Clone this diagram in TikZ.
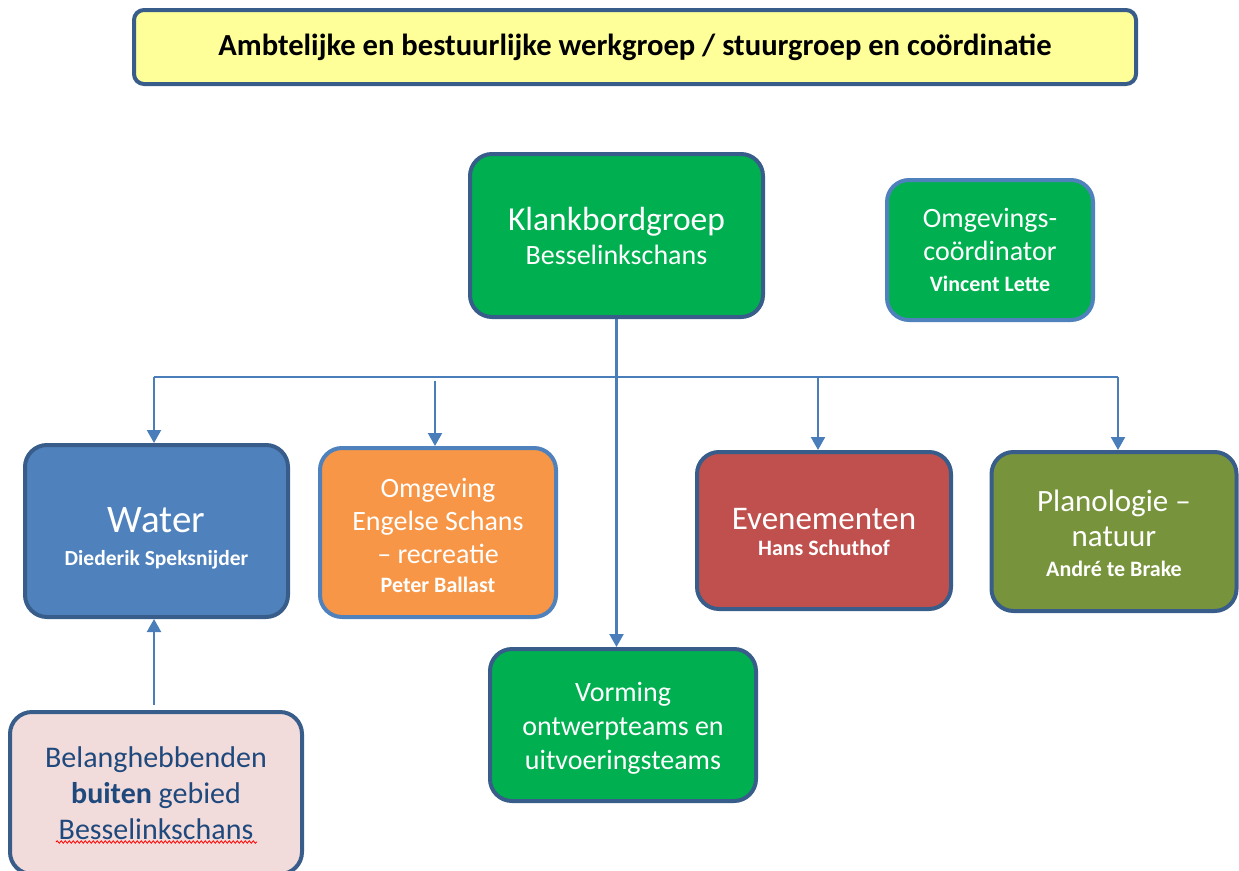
\documentclass[tikz,border=0pt]{standalone}
\usepackage{fontspec}
\setmainfont{Carlito}
\usetikzlibrary{arrows.meta,decorations.pathmorphing}
\definecolor{darkb}{HTML}{385D8A}
\definecolor{lightb}{HTML}{4F81BD}
\definecolor{connc}{HTML}{4A7EBB}
\definecolor{yel}{HTML}{FFFF99}
\definecolor{grn}{HTML}{00B050}
\definecolor{wblue}{HTML}{4F81BD}
\definecolor{orng}{HTML}{F79646}
\definecolor{redd}{HTML}{C0504D}
\definecolor{olive}{HTML}{77933C}
\definecolor{pink}{HTML}{F2DCDB}
\definecolor{navy}{HTML}{1F497D}
\newcommand{\fsz}[2]{\fontsize{#1}{#2}\selectfont}
\newcommand{\pushdown}[2]{\raisebox{0pt}[\dimexpr\height+#1\relax]{#2}}
\begin{document}
\begin{tikzpicture}[x=1pt,y=-1pt,
  box/.style={draw=darkb, line width=4pt, rounded corners=22pt, text=white, align=center, inner sep=0pt},
  conn/.style={draw=connc, line width=2.2pt},
  arr/.style={conn, -{Triangle[width=14pt,length=13pt]}}]
\useasboundingbox (0,0) rectangle (1239,870);

\node[box, fill=yel, rounded corners=10pt, minimum width=1002pt, minimum height=74pt, text=black,
  font=\fsz{30.6}{36}\bfseries] (title) at (635,47)
  {Ambtelijke en bestuurlijke werkgroep / stuurgroep en coördinatie};

\node[box, fill=grn, minimum width=293pt, minimum height=163pt, font=\fsz{33.5}{34}] (klank) at (616.5,235.5)
  {Klankbordgroep\\\fsz{28}{34}Besselinkschans};

\node[box, fill=grn, draw=lightb, minimum width=206pt, minimum height=140pt, font=\fsz{28}{33}] (omgc) at (990,250)
  {Omgevings-\\coördinator\\[-2pt]\fsz{22}{33}\bfseries Vincent Lette};

\node[box, fill=wblue, minimum width=263pt, minimum height=172pt, font=\fsz{39}{33}] (water) at (156.5,531)
  {\pushdown{14pt}{Water}\\\fsz{21.5}{33}\bfseries Diederik Speksnijder};

\node[box, fill=orng, draw=lightb, minimum width=236pt, minimum height=169pt, font=\fsz{28}{33}] (omg) at (438,532.5)
  {\pushdown{6pt}{Omgeving}\\Engelse Schans\\-- recreatie\\[-4pt]\fsz{22}{33}\bfseries Peter Ballast};

\node[box, fill=redd, minimum width=254pt, minimum height=157pt, font=\fsz{33}{26}] (even) at (824,530.5)
  {\pushdown{3pt}{Evenementen}\\\fsz{22}{26}\bfseries Hans Schuthof};

\node[box, fill=olive, minimum width=245pt, minimum height=159pt, font=\fsz{31}{35}] (plan) at (1114,531.5)
  {\pushdown{3pt}{Planologie --}\\natuur\\[-5pt]\fsz{22}{35}\bfseries André te Brake};

\node[box, fill=grn, minimum width=266pt, minimum height=152pt, font=\fsz{28}{34}] (vorm) at (623,725)
  {\pushdown{6pt}{Vorming}\\ontwerpteams en\\uitvoeringsteams};

\node[box, fill=pink, text=navy, minimum width=292pt, minimum height=162pt, font=\fsz{30}{36}] (belang) at (156,793)
  {Belanghebbenden\\\textbf{buiten} gebied\\Besselinkschans};

% connectors
\coordinate (busL) at (154,377);
\coordinate (busR) at (1118,377);
\coordinate (tapO) at (435,381);
\coordinate (tapE) at (818,377);
\coordinate (belTop) at (154,705);
\draw[conn] (busL) -- (busR);
\draw[arr] (busL) -- (busL |- water.north);
\draw[arr] (tapO) -- (tapO |- omg.north);
\draw[arr] (tapE) -- (tapE |- even.north);
\draw[arr] (busR) -- (busR |- plan.north);
\draw[arr] (klank.south) -- (klank.south |- vorm.north);
\draw[arr] (belTop) -- (belTop |- water.south);

% spell-check underline
\coordinate (ulA) at (56,842);
\coordinate (ulB) at (257,842);
\draw[red, line width=0.8pt, decorate, decoration={snake, amplitude=1.2pt, segment length=4pt}] (ulA) -- (ulB);
\end{tikzpicture}
\end{document}
